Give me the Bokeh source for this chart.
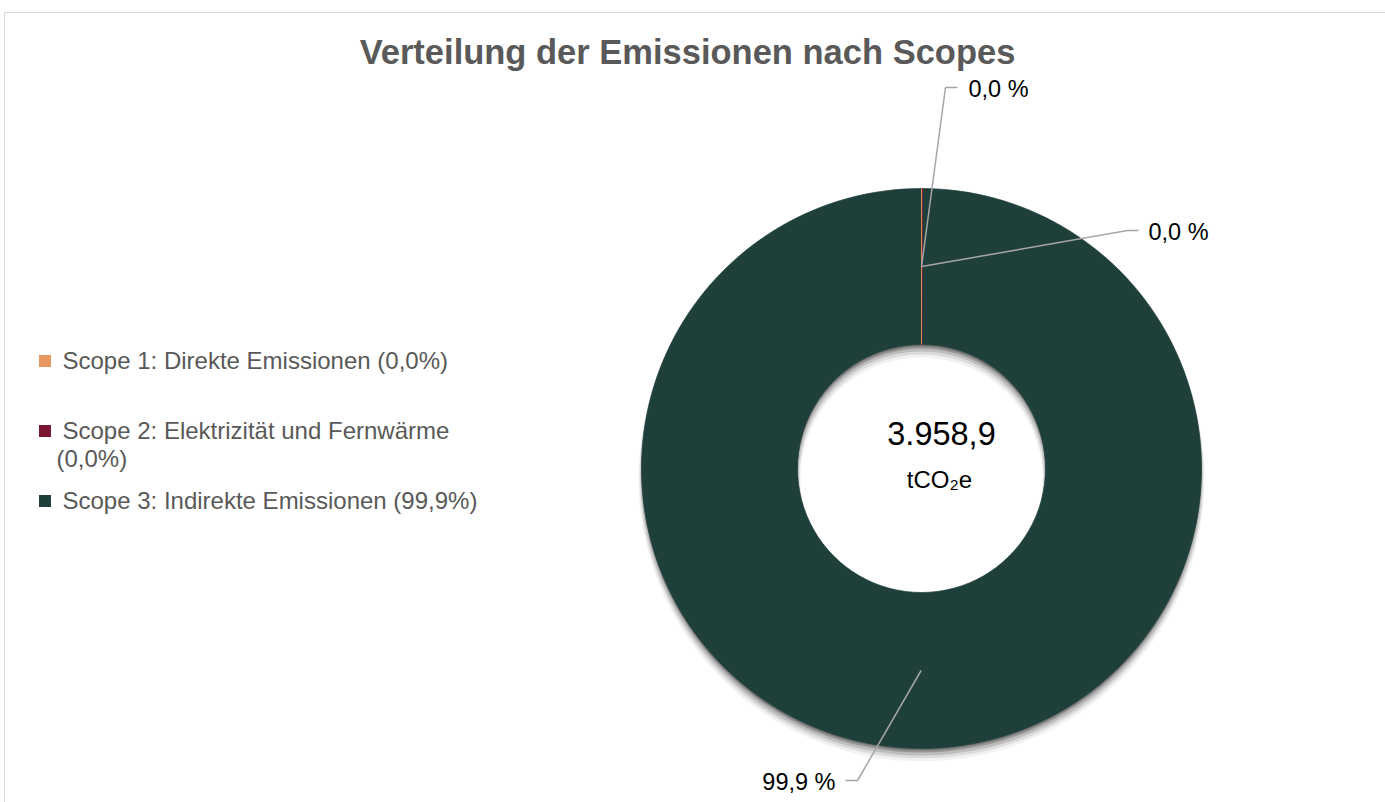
import numpy as np
from bokeh.plotting import figure
from bokeh.models import Range1d, ColumnDataSource
from bokeh.core.properties import value
from bokeh.embed import file_html
from bokeh.resources import INLINE

# ---- data ----
categories = ["Scope 1: Direkte Emissionen", "Scope 2: Elektrizität und Fernwärme", "Scope 3: Indirekte Emissionen"]
emissions = [0.3, 1.9, 3956.7]   # tCO2e
colors = ["#E8975F", "#7A1632", "#1F3F3B"]
legend_lines = [["Scope 1: Direkte Emissionen (0,0%)"],
                ["Scope 2: Elektrizität und Fernwärme", "(0,0%)"],
                ["Scope 3: Indirekte Emissionen (99,9%)"]]
slice_labels = ["0,0 %", "0,0 %", "99,9 %"]
total_label = "3.958,9"
unit_label = "tCO₂e"
title = "Verteilung der Emissionen nach Scopes"

W, H = 1385, 802
FONT = value("Liberation Sans")

def Y(py):
    return H - py

p = figure(width=W, height=H, x_range=Range1d(0, W), y_range=Range1d(0, H),
           output_backend="svg", toolbar_location=None, min_border=0)
p.axis.visible = False
p.grid.visible = False
p.outline_line_color = None
p.background_fill_color = "white"

# chart border
p.line([4, 4, W + 5], [Y(H + 5), Y(12), Y(12)], line_color="#D9D9D9", line_width=1)

cx, cy = 921, Y(468)
r_out, r_in = 280, 124

vals = np.array(emissions, dtype=float)
frac = vals / vals.sum()
cum = np.concatenate([[0], np.cumsum(frac)])
start = np.pi / 2 - 2 * np.pi * cum[:-1]
end = np.pi / 2 - 2 * np.pi * cum[1:]

# soft shadow (approximation of blur)
for off, a, grow in [(10, 0.05, 3), (8, 0.09, 2), (6, 0.14, 1), (4, 0.2, 0), (2, 0.22, 0)]:
    p.annular_wedge(x=cx, y=cy - off, inner_radius=r_in - grow, outer_radius=r_out + grow,
                    start_angle=0, end_angle=2 * np.pi, fill_color="black", fill_alpha=a,
                    line_color=None)

# draw the big slice first so the thin slices stay visible on top
order = list(range(len(vals)))[::-1]
src = ColumnDataSource(dict(start=start[order], end=end[order], color=[colors[i] for i in order]))
p.annular_wedge(x=cx, y=cy, inner_radius=r_in, outer_radius=r_out, start_angle="start",
                end_angle="end", direction="clock", fill_color="color", line_color="color",
                line_width=0.7, source=src)

# leader lines and labels
mid = (start + end) / 2
rm = (r_in + r_out) / 2
ax = cx + rm * np.cos(mid)
ay = cy + rm * np.sin(mid)
label_pos = [(945, 87, 957, 968, "left"), (1127, 230, 1138, 1148, "left"), (857, 780, 845, 835, "right")]
for i, (kx, ky, hx, tx, align) in enumerate(label_pos):
    p.line([ax[i], kx, hx], [ay[i], Y(ky), Y(ky)], line_color="#A6A6A6", line_width=1.5)
    p.text(x=[tx], y=[Y(ky + 1)], text=[slice_labels[i]], text_font=FONT, text_font_size="23.5px",
           text_color="#000000", text_align=align, text_baseline="middle")

# center text
p.text(x=[941], y=[Y(433)], text=[total_label], text_font=FONT, text_font_size="32.5px",
       text_color="#000000", text_align="center", text_baseline="middle")
p.text(x=[939], y=[Y(479)], text=[unit_label], text_font=FONT, text_font_size="24px",
       text_color="#000000", text_align="center", text_baseline="middle")

# title
p.text(x=[687], y=[Y(51)], text=[title], text_font=FONT, text_font_size="34.5px",
       text_font_style="bold", text_color="#595959", text_align="center", text_baseline="middle")

# legend
leg_y = [360, 430, 500]
p.rect(x=[44.5] * 3, y=[Y(v + 0.5) for v in leg_y], width=12, height=12, fill_color=colors,
       line_color=None)
for i, lines in enumerate(legend_lines):
    for j, t in enumerate(lines):
        p.text(x=[62 if j == 0 else 56], y=[Y(leg_y[i] + 28 * j)], text=[t], text_font=FONT,
               text_font_size="24px", text_color="#595959", text_align="left",
               text_baseline="middle")

open("out.html", "w").write(file_html(p, INLINE))
